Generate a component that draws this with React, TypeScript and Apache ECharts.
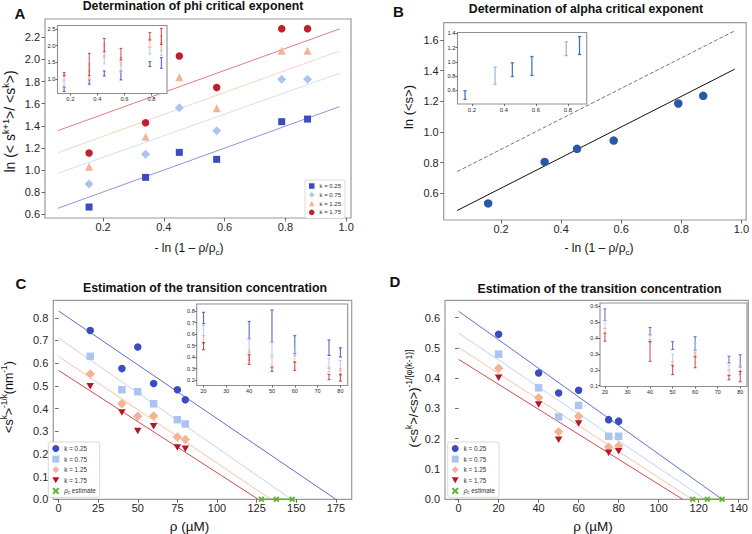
import React, { useEffect, useRef } from 'react';
import * as echarts from 'echarts';

const SANS = 'Liberation Sans';

// ---------- Panel A : phi critical exponent ----------
const xA = [0.154, 0.34, 0.451, 0.574, 0.788, 0.873];
const aK025 = [0.666, 0.934, 1.16, 1.097, 1.437, 1.461];
const aK075 = [0.874, 1.142, 1.564, 1.356, 1.82, 1.82];
const aK125 = [1.03, 1.3, 1.838, 1.558, 2.079, 2.079];
const aK175 = [1.154, 1.428, 2.03, 1.745, 2.278, 2.278];
const aFit025 = [[0.051, 0.654], [0.978, 1.573]];
const aFit075 = [[0.051, 0.97], [0.978, 1.874]];
const aFit125 = [[0.051, 1.157], [0.978, 2.076]];
const aFit175 = [[0.051, 1.356], [0.978, 2.275]];
const aErr025 = [[0.62, 0.75], [0.84, 0.97], [1.09, 1.24], [0.97, 1.24], [1.37, 1.52], [1.32, 1.64]];
const aErr075 = [[0.8, 0.94], [0.97, 1.25], [1.45, 1.7], [1.2, 1.5], [1.75, 1.95], [1.7, 2.1]];
const aErr125 = [[0.97, 1.12], [1.0, 1.45], [1.65, 2.05], [1.4, 1.65], [1.95, 2.2], [1.85, 2.3]];
const aErr175 = [[1.09, 1.19], [1.1, 1.77], [1.82, 2.22], [1.57, 1.92], [2.17, 2.4], [2.04, 2.52]];
const aXTicks = [0.2, 0.4, 0.6, 0.8, 1.0];
const aYTicks = [0.6, 0.8, 1.0, 1.2, 1.4, 1.6, 1.8, 2.0, 2.2];
const aInXTicks = [0.2, 0.4, 0.6, 0.8];
const aInYTicks = [1.0, 1.5, 2.0, 2.5];

// ---------- Panel B : alpha critical exponent ----------
const xB = [0.157, 0.345, 0.453, 0.575, 0.79, 0.873];
const bMean = [0.533, 0.804, 0.889, 0.943, 1.185, 1.235];
const bFit = [[0.054, 0.487], [0.978, 1.409]];
const bRef = [[0.054, 0.741], [0.978, 1.659]];
const bErr = [[0.474, 0.595], [0.684, 0.926], [0.795, 0.986], [0.81, 1.074], [1.088, 1.279], [1.102, 1.353]];
const bXTicks = [0.2, 0.4, 0.6, 0.8, 1.0];
const bYTicks = [0.6, 0.8, 1.0, 1.2, 1.4, 1.6];
const bInXTicks = [0.2, 0.4, 0.6, 0.8];
const bInYTicks = [0.6, 0.8, 1.0, 1.2, 1.4];

// ---------- Panel C : transition concentration ----------
const rho = [20, 40, 50, 60, 75, 80];
const cK025 = [0.744, 0.576, 0.671, 0.51, 0.483, 0.439];
const cK075 = [0.63, 0.483, 0.474, 0.421, 0.351, 0.332];
const cK125 = [0.552, 0.421, 0.366, 0.367, 0.275, 0.264];
const cK175 = [0.498, 0.383, 0.301, 0.322, 0.228, 0.223];
const cFit025 = [[0, 0.83], [175, 0]];
const cFit075 = [[0, 0.711], [147, 0]];
const cFit125 = [[0, 0.63], [134, 0]];
const cFit175 = [[0, 0.568], [126, 0]];
const cRhoC = [128, 137.5, 147.5];
const cRhoCRange = [[127, 0], [148, 0]];
const cErr025 = [[0.69, 0.79], [0.56, 0.71], [0.53, 0.81], [0.43, 0.586], [0.414, 0.549], [0.4, 0.48]];
const cErr075 = [[0.586, 0.673], [0.44, 0.558], [0.414, 0.53], [0.414, 0.485], [0.3, 0.385], [0.284, 0.37]];
const cErr125 = [[0.52, 0.586], [0.37, 0.46], [0.33, 0.4], [0.356, 0.41], [0.27, 0.31], [0.24, 0.3]];
const cErr175 = [[0.463, 0.525], [0.336, 0.42], [0.275, 0.313], [0.284, 0.356], [0.203, 0.249], [0.19, 0.25]];
const cXTicks = [0, 25, 50, 75, 100, 125, 150, 175];
const cYTicks = [0, 0.1, 0.2, 0.3, 0.4, 0.5, 0.6, 0.7, 0.8];
const cInXTicks = [20, 30, 40, 50, 60, 70, 80];
const cInYTicks = [0.2, 0.3, 0.4, 0.5, 0.6, 0.7, 0.8];

// ---------- Panel D : transition concentration ----------
const dK025 = [0.545, 0.417, 0.351, 0.36, 0.263, 0.258];
const dK075 = [0.479, 0.368, 0.272, 0.31, 0.208, 0.208];
const dK125 = [0.433, 0.335, 0.223, 0.274, 0.173, 0.176];
const dK175 = [0.401, 0.313, 0.197, 0.25, 0.154, 0.159];
const dFit025 = [[0, 0.621], [131.7, 0]];
const dFit075 = [[0, 0.549], [123.3, 0]];
const dFit125 = [[0, 0.501], [116.7, 0]];
const dFit175 = [[0, 0.462], [112, 0]];
const dRhoC = [117, 124.3, 131.7];
const dRhoCRange = [[116.5, 0], [132, 0]];
const dErr025 = [[0.51, 0.583], [0.42, 0.466], [0.328, 0.377], [0.323, 0.408], [0.243, 0.285], [0.217, 0.295]];
const dErr075 = [[0.46, 0.51], [0.377, 0.42], [0.25, 0.3], [0.3, 0.366], [0.196, 0.228], [0.19, 0.228]];
const dErr125 = [[0.43, 0.46], [0.377, 0.39], [0.217, 0.25], [0.28, 0.31], [0.17, 0.196], [0.17, 0.19]];
const dErr175 = [[0.38, 0.43], [0.253, 0.377], [0.17, 0.228], [0.213, 0.285], [0.138, 0.164], [0.125, 0.19]];
const dXTicks = [0, 20, 40, 60, 80, 100, 120, 140];
const dYTicks = [0, 0.1, 0.2, 0.3, 0.4, 0.5, 0.6];
const dInXTicks = [20, 30, 40, 50, 60, 70, 80];
const dInYTicks = [0.1, 0.2, 0.3, 0.4, 0.5, 0.6];

const kNames = ['k = 0.25', 'k = 0.75', 'k = 1.25', 'k = 1.75'];
const rhoCName = 'ρc estimate';

// ---------- styles ----------
const COL = ['#3b4cc0', '#a9c5f0', '#f5b396', '#c0202e'];
const FITCOL = ['#4f5fc4', '#b9cff0', '#f6bd9f', '#d2353e'];
const BCOL = '#2a58a8';
const BERRCOL = ['#4a78c6', '#9cb8e4', '#4a78c6', '#4a78c6', '#9cb8e4', '#3f6fc2'];
const GREEN = '#5ab52f';
const TRI_DOWN = 'path://M0,0L10,0L5,8.66Z';
const XMARK = 'path://M2,0L5,3L8,0L10,2L7,5L10,8L8,10L5,7L2,10L0,8L3,5L0,2Z';

function axis(gridIndex: number, min: number, max: number, ticks: number[], dec: number,
  fs: number, margin: number, tickLen: number, z: number) {
  return {
    type: 'value', gridIndex, min, max, z,
    axisLine: { show: false },
    axisTick: { show: true, customValues: ticks, length: tickLen, lineStyle: { color: '#444', width: 0.8 } },
    axisLabel: {
      customValues: ticks, formatter: (v: number) => Number(v).toFixed(dec),
      fontSize: fs, fontFamily: SANS, color: '#262626', margin,
    },
    splitLine: { show: false },
  };
}

function scatter(name: string, ax: number, xs: number[], ys: number[], symbol: string, size: number,
  color: string, extra: any = {}) {
  return {
    type: 'scatter', name, xAxisIndex: ax, yAxisIndex: ax, symbol, symbolSize: size,
    symbolKeepAspect: true, itemStyle: { color, opacity: 1 }, z: 3,
    data: xs.map((x, i) => [x, ys[i]]), ...extra,
  };
}

function fit(ax: number, pts: number[][], color: string, opacity: number) {
  return {
    type: 'line', xAxisIndex: ax, yAxisIndex: ax, data: pts, showSymbol: false, symbol: 'none',
    silent: true, z: 2, lineStyle: { color, width: 1, opacity },
  };
}

function errbars(ax: number, xs: number[], bars: number[][], colors: string[], cap: number,
  lw: number, opacity: number) {
  return {
    type: 'custom', xAxisIndex: ax, yAxisIndex: ax, z: 6, silent: true, clip: false,
    encode: { x: 0, y: [1, 2] },
    data: xs.map((x, i) => [x, bars[i][0], bars[i][1]]),
    renderItem: (params: any, api: any) => {
      const x = api.value(0);
      const p1 = api.coord([x, api.value(1)]);
      const p2 = api.coord([x, api.value(2)]);
      const style = { stroke: colors[params.dataIndex % colors.length], lineWidth: lw, opacity };
      return {
        type: 'group', children: [
          { type: 'line', shape: { x1: p1[0], y1: p1[1], x2: p2[0], y2: p2[1] }, style },
          { type: 'line', shape: { x1: p1[0] - cap, y1: p1[1], x2: p1[0] + cap, y2: p1[1] }, style },
          { type: 'line', shape: { x1: p2[0] - cap, y1: p2[1], x2: p2[0] + cap, y2: p2[1] }, style },
        ],
      };
    },
  };
}

function txt(x: number, y: number, text: string, fs: number, opts: any = {}) {
  return {
    type: 'text', x, y, rotation: opts.rotation || 0, z: 10,
    style: {
      text, fill: '#111', fontSize: fs, fontFamily: SANS, fontWeight: opts.bold ? 'bold' : 'normal',
      align: 'center', verticalAlign: 'middle', rich: opts.rich,
    },
  };
}

function richLabel(fs: number) {
  return {
    n: { fontSize: fs, fontFamily: SANS, fill: '#111', lineHeight: fs + 4, verticalAlign: 'middle' },
    s: { fontSize: fs * 0.66, fontFamily: SANS, fill: '#111', lineHeight: fs * 0.8, verticalAlign: 'top' },
    b: { fontSize: fs * 0.66, fontFamily: SANS, fill: '#111', lineHeight: fs * 0.8, verticalAlign: 'bottom' },
  };
}

const stripName = (n: string) => {
  const s = n.split('|')[1];
  if (s === rhoCName) return '{r|ρ}{c|c} estimate';
  return s;
};

function legend(prefix: string, names: string[], left: number, top: number, fs: number, ih: number, gap: number) {
  return {
    show: true, data: names.map((n) => prefix + '|' + n), left, top, orient: 'vertical',
    itemWidth: ih, itemHeight: ih, itemGap: gap, padding: [3, 4, 3, 4], backgroundColor: '#fff',
    borderColor: '#cfcfcf', borderWidth: 0.8, borderRadius: 2, selectedMode: false, z: 8,
    formatter: stripName,
    textStyle: {
      fontSize: fs, lineHeight: ih, fontFamily: SANS, color: '#333',
      rich: {
        r: { fontSize: fs, fontStyle: 'italic', fontFamily: SANS, color: '#333', lineHeight: ih },
        c: { fontSize: fs * 0.7, fontFamily: SANS, color: '#333', lineHeight: ih * 0.7, verticalAlign: 'bottom' },
      },
    },
  };
}

function buildOption() {
  const gridMain = { show: true, borderColor: '#9a9a9a', borderWidth: 1.2, backgroundColor: 'transparent', z: 0 };
  const gridIn = { show: true, borderColor: '#8f8f8f', borderWidth: 1.1, backgroundColor: '#fff', z: 4 };
  const grid = [
    { left: 45, top: 19, width: 306, height: 199, ...gridMain },
    { left: 57.5, top: 25.5, width: 109.5, height: 68, ...gridIn },
    { left: 443.7, top: 22.7, width: 304.6, height: 197.3, ...gridMain },
    { left: 457.5, top: 32.5, width: 129.2, height: 71.5, ...gridIn },
    { left: 53.3, top: 300.3, width: 298.4, height: 199, ...gridMain },
    { left: 196.7, top: 304, width: 151, height: 81.5, ...gridIn },
    { left: 445, top: 300.3, width: 303.3, height: 199, ...gridMain },
    { left: 600, top: 303, width: 147, height: 83.5, ...gridIn },
  ];
  const xAxis = [
    axis(0, 0.009, 1.016, aXTicks, 1, 11, 3.5, 3.5, 1),
    axis(1, 0.105, 0.915, aInXTicks, 1, 5.8, 2.5, 2, 5),
    axis(2, 0.009, 1.016, bXTicks, 1, 11, 3.5, 3.5, 1),
    axis(3, 0.11, 0.918, bInXTicks, 1, 5.8, 2.5, 2, 5),
    axis(4, -3.3, 185, cXTicks, 0, 11, 3.5, 3.5, 1),
    axis(5, 17, 83.2, cInXTicks, 0, 5.5, 2.5, 2, 5),
    axis(6, -6.8, 144.8, dXTicks, 0, 11, 3.5, 3.5, 1),
    axis(7, 17.8, 83, dInXTicks, 0, 5.5, 2.5, 2, 5),
  ];
  const yAxis = [
    axis(0, 0.567, 2.365, aYTicks, 1, 11, 5, 3.5, 1),
    axis(1, 0.56, 2.61, aInYTicks, 1, 5.8, 2, 2, 5),
    axis(2, 0.425, 1.712, bYTicks, 1, 11, 5, 3.5, 1),
    axis(3, 0.41, 1.41, bInYTicks, 1, 5.8, 2, 2, 5),
    axis(4, 0, 0.877, cYTicks, 1, 11, 5, 3.5, 1),
    axis(5, 0.152, 0.862, cInYTicks, 1, 5.5, 2, 2, 5),
    axis(6, 0, 0.657, dYTicks, 1, 11, 5, 3.5, 1),
    axis(7, 0.095, 0.62, dInYTicks, 1, 5.5, 2, 2, 5),
  ];

  const series: any[] = [
    // A
    fit(0, aFit025, FITCOL[0], 0.65), fit(0, aFit075, FITCOL[1], 0.65),
    fit(0, aFit125, FITCOL[2], 0.65), fit(0, aFit175, FITCOL[3], 0.65),
    scatter('A|' + kNames[0], 0, xA, aK025, 'rect', 7, COL[0]),
    scatter('A|' + kNames[1], 0, xA, aK075, 'diamond', 9, COL[1]),
    scatter('A|' + kNames[2], 0, xA, aK125, 'triangle', 8, COL[2]),
    scatter('A|' + kNames[3], 0, xA, aK175, 'circle', 7.5, COL[3]),
    errbars(1, xA, aErr025, [COL[0]], 1.4, 1.1, 0.85),
    errbars(1, xA, aErr075, [COL[1]], 1.4, 1.1, 0.85),
    errbars(1, xA, aErr125, [COL[2]], 1.4, 1.1, 0.85),
    errbars(1, xA, aErr175, [COL[3]], 1.4, 1.1, 0.75),
    // B
    fit(2, bFit, '#111111', 1),
    { ...fit(2, bRef, '#777777', 1), lineStyle: { color: '#777777', width: 1, type: [4, 2] } },
    scatter('B|mean', 2, xB, bMean, 'circle', 8.5, BCOL),
    errbars(3, xB, bErr, BERRCOL, 1.6, 1.3, 1),
    // C
    fit(4, cFit025, FITCOL[0], 0.9), fit(4, cFit075, FITCOL[1], 0.9),
    fit(4, cFit125, FITCOL[2], 0.9), fit(4, cFit175, FITCOL[3], 0.9),
    { ...fit(4, cRhoCRange, GREEN, 1), lineStyle: { color: GREEN, width: 1.8 } },
    scatter('C|' + kNames[0], 4, rho, cK025, 'circle', 7.5, COL[0]),
    scatter('C|' + kNames[1], 4, rho, cK075, 'rect', 7.5, COL[1]),
    scatter('C|' + kNames[2], 4, rho, cK125, 'diamond', 9.5, COL[2]),
    scatter('C|' + kNames[3], 4, rho, cK175, TRI_DOWN, 7.5, '#b2182b'),
    scatter('C|' + rhoCName, 4, cRhoC, cRhoC.map(() => 0), XMARK, 6, GREEN),
    errbars(5, rho, cErr025, [COL[0]], 1.5, 1.1, 0.85),
    errbars(5, rho, cErr075, [COL[1]], 1.5, 1.1, 0.85),
    errbars(5, rho, cErr125, [COL[2]], 1.5, 1.1, 0.85),
    errbars(5, rho, cErr175, [COL[3]], 1.5, 1.1, 0.8),
    // D
    fit(6, dFit025, FITCOL[0], 0.9), fit(6, dFit075, FITCOL[1], 0.9),
    fit(6, dFit125, FITCOL[2], 0.9), fit(6, dFit175, FITCOL[3], 0.9),
    { ...fit(6, dRhoCRange, GREEN, 1), lineStyle: { color: GREEN, width: 1.8 } },
    scatter('D|' + kNames[0], 6, rho, dK025, 'circle', 7.5, COL[0]),
    scatter('D|' + kNames[1], 6, rho, dK075, 'rect', 7.5, COL[1]),
    scatter('D|' + kNames[2], 6, rho, dK125, 'diamond', 9.5, COL[2]),
    scatter('D|' + kNames[3], 6, rho, dK175, TRI_DOWN, 7.5, '#b2182b'),
    scatter('D|' + rhoCName, 6, dRhoC, dRhoC.map(() => 0), XMARK, 6, GREEN),
    errbars(7, rho, dErr025, [COL[0]], 1.5, 1.1, 0.75),
    errbars(7, rho, dErr075, [COL[1]], 1.5, 1.1, 0.75),
    errbars(7, rho, dErr125, [COL[2]], 1.5, 1.1, 0.75),
    errbars(7, rho, dErr175, [COL[3]], 1.5, 1.1, 0.75),
  ];

  const legendArr = [
    legend('A', kNames, 305, 180, 6, 5.5, 2.8),
    legend('C', [...kNames, rhoCName], 48.3, 442, 6.3, 7, 3.6),
    legend('D', [...kNames, rhoCName], 447.7, 442, 6.3, 7, 3.6),
  ];

  const graphic = [
    txt(20, 13, 'A', 15, { bold: true }),
    txt(398.5, 11.7, 'B', 15, { bold: true }),
    txt(21, 283, 'C', 15, { bold: true }),
    txt(395, 281, 'D', 15, { bold: true }),
    txt(193, 5.5, 'Determination of phi critical exponent', 12.3, { bold: true }),
    txt(586, 8.5, 'Determination of alpha critical exponent', 12.3, { bold: true }),
    txt(205, 288, 'Estimation of the transition concentration', 12.3, { bold: true }),
    txt(599.5, 288.5, 'Estimation of the transition concentration', 12.3, { bold: true }),
    txt(189, 248, '{n|- ln (1 – ρ/ρ}{b|c}{n|)}', 12, { rich: richLabel(12) }),
    txt(599, 248, '{n|- ln (1 – ρ/ρ}{b|c}{n|)}', 12, { rich: richLabel(12) }),
    txt(189.5, 526, 'ρ (µM)', 13.5),
    txt(593, 526, 'ρ (µM)', 13.5),
    txt(10, 121.5, '{n|ln (< s}{s|k+1}{n|>/ <s}{s|k}{n|>)}', 14,
      { rich: richLabel(14), rotation: Math.PI / 2 }),
    txt(408, 107, 'ln (<s>)', 13, { rotation: Math.PI / 2 }),
    txt(9, 397, '{n|<s}{s|k}{n|>}{s|-1/k}{n|(nm}{s|-1}{n|)}', 12.5,
      { rich: richLabel(12.5), rotation: Math.PI / 2 }),
    txt(413, 398.5, '{n|(<s}{s|k}{n|>/<s>)}{s|-1/[φ(k-1)]}', 13,
      { rich: richLabel(13), rotation: Math.PI / 2 }),
  ];

  return {
    animation: false,
    backgroundColor: '#ffffff',
    grid, xAxis, yAxis, series, legend: legendArr, graphic,
  };
}

export default function App() {
  const ref = useRef<HTMLDivElement>(null);
  useEffect(() => {
    const chart = echarts.init(ref.current as HTMLDivElement, null, { renderer: 'svg' });
    chart.setOption(buildOption() as any);
    return () => chart.dispose();
  }, []);
  return (
    <div
      ref={ref}
      style={{ position: 'fixed', left: 0, top: 0, width: 752, height: 534, background: '#fff' }}
    />
  );
}
